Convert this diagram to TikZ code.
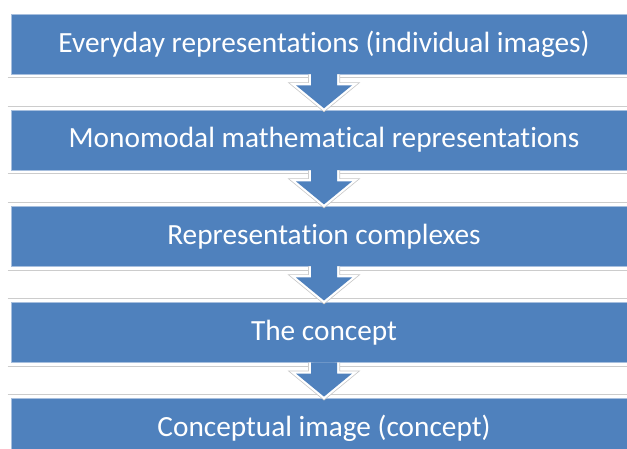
\documentclass[tikz,border=0pt]{standalone}
\usepackage{fontspec}
\setmainfont{Carlito}[Ligatures=NoCommon]
\usepackage{xcolor}
\usetikzlibrary{positioning}

\definecolor{boxblue}{HTML}{4F81BD}
\definecolor{boxedge}{HTML}{A7BFDE}

\begin{document}
\begin{tikzpicture}[
    x=1pt, y=1pt,
    node distance=35.5pt,
    block/.style={rectangle, draw=boxedge, line width=0.6pt, fill=boxblue, minimum width=626pt, minimum height=60pt, inner sep=0pt, text=white, font=\fontsize{29.3}{33}\selectfont},
    rule/.style={draw=gray!40, line width=0.9pt},
    halo/.style={draw=gray!45, line width=6pt, line join=miter},
    rim/.style={draw=white, line width=4.5pt, line join=miter},
]
    \useasboundingbox (0,0) rectangle (627,-449);

    \node[block] (everyday) at (324,-44) {Everyday representations (individual images)};
    \node[block, below=of everyday] (mono) {Monomodal mathematical representations};
    \node[block, below=of mono] (complex) {Representation complexes};
    \node[block, below=of complex] (concept) {The concept};
    \node[block, below=of concept] (image) {Conceptual image (concept)};

    \foreach \a/\b in {everyday/mono, mono/complex, complex/concept, concept/image} {
        \draw[rule] ([xshift=-3pt, yshift=-3.5pt]\a.south west) -- ([yshift=-3.5pt]\a.south east);
        \draw[rule] ([xshift=-3pt, yshift=3.5pt]\b.north west) -- ([yshift=3.5pt]\b.north east);
        \draw[halo, shift={(\a.south)}] (-13,0) -- (-13,-11) -- (-28,-11) -- (0,-34) -- (28,-11) -- (13,-11) -- (13,0);
        \draw[rim, shift={(\a.south)}] (-13,0) -- (-13,-11) -- (-28,-11) -- (0,-34) -- (28,-11) -- (13,-11) -- (13,0);
        \fill[boxblue, shift={(\a.south)}] (-13,0.3) -- (-13,-11) -- (-28,-11) -- (0,-34) -- (28,-11) -- (13,-11) -- (13,0.3) -- cycle;
    }
\end{tikzpicture}
\end{document}
